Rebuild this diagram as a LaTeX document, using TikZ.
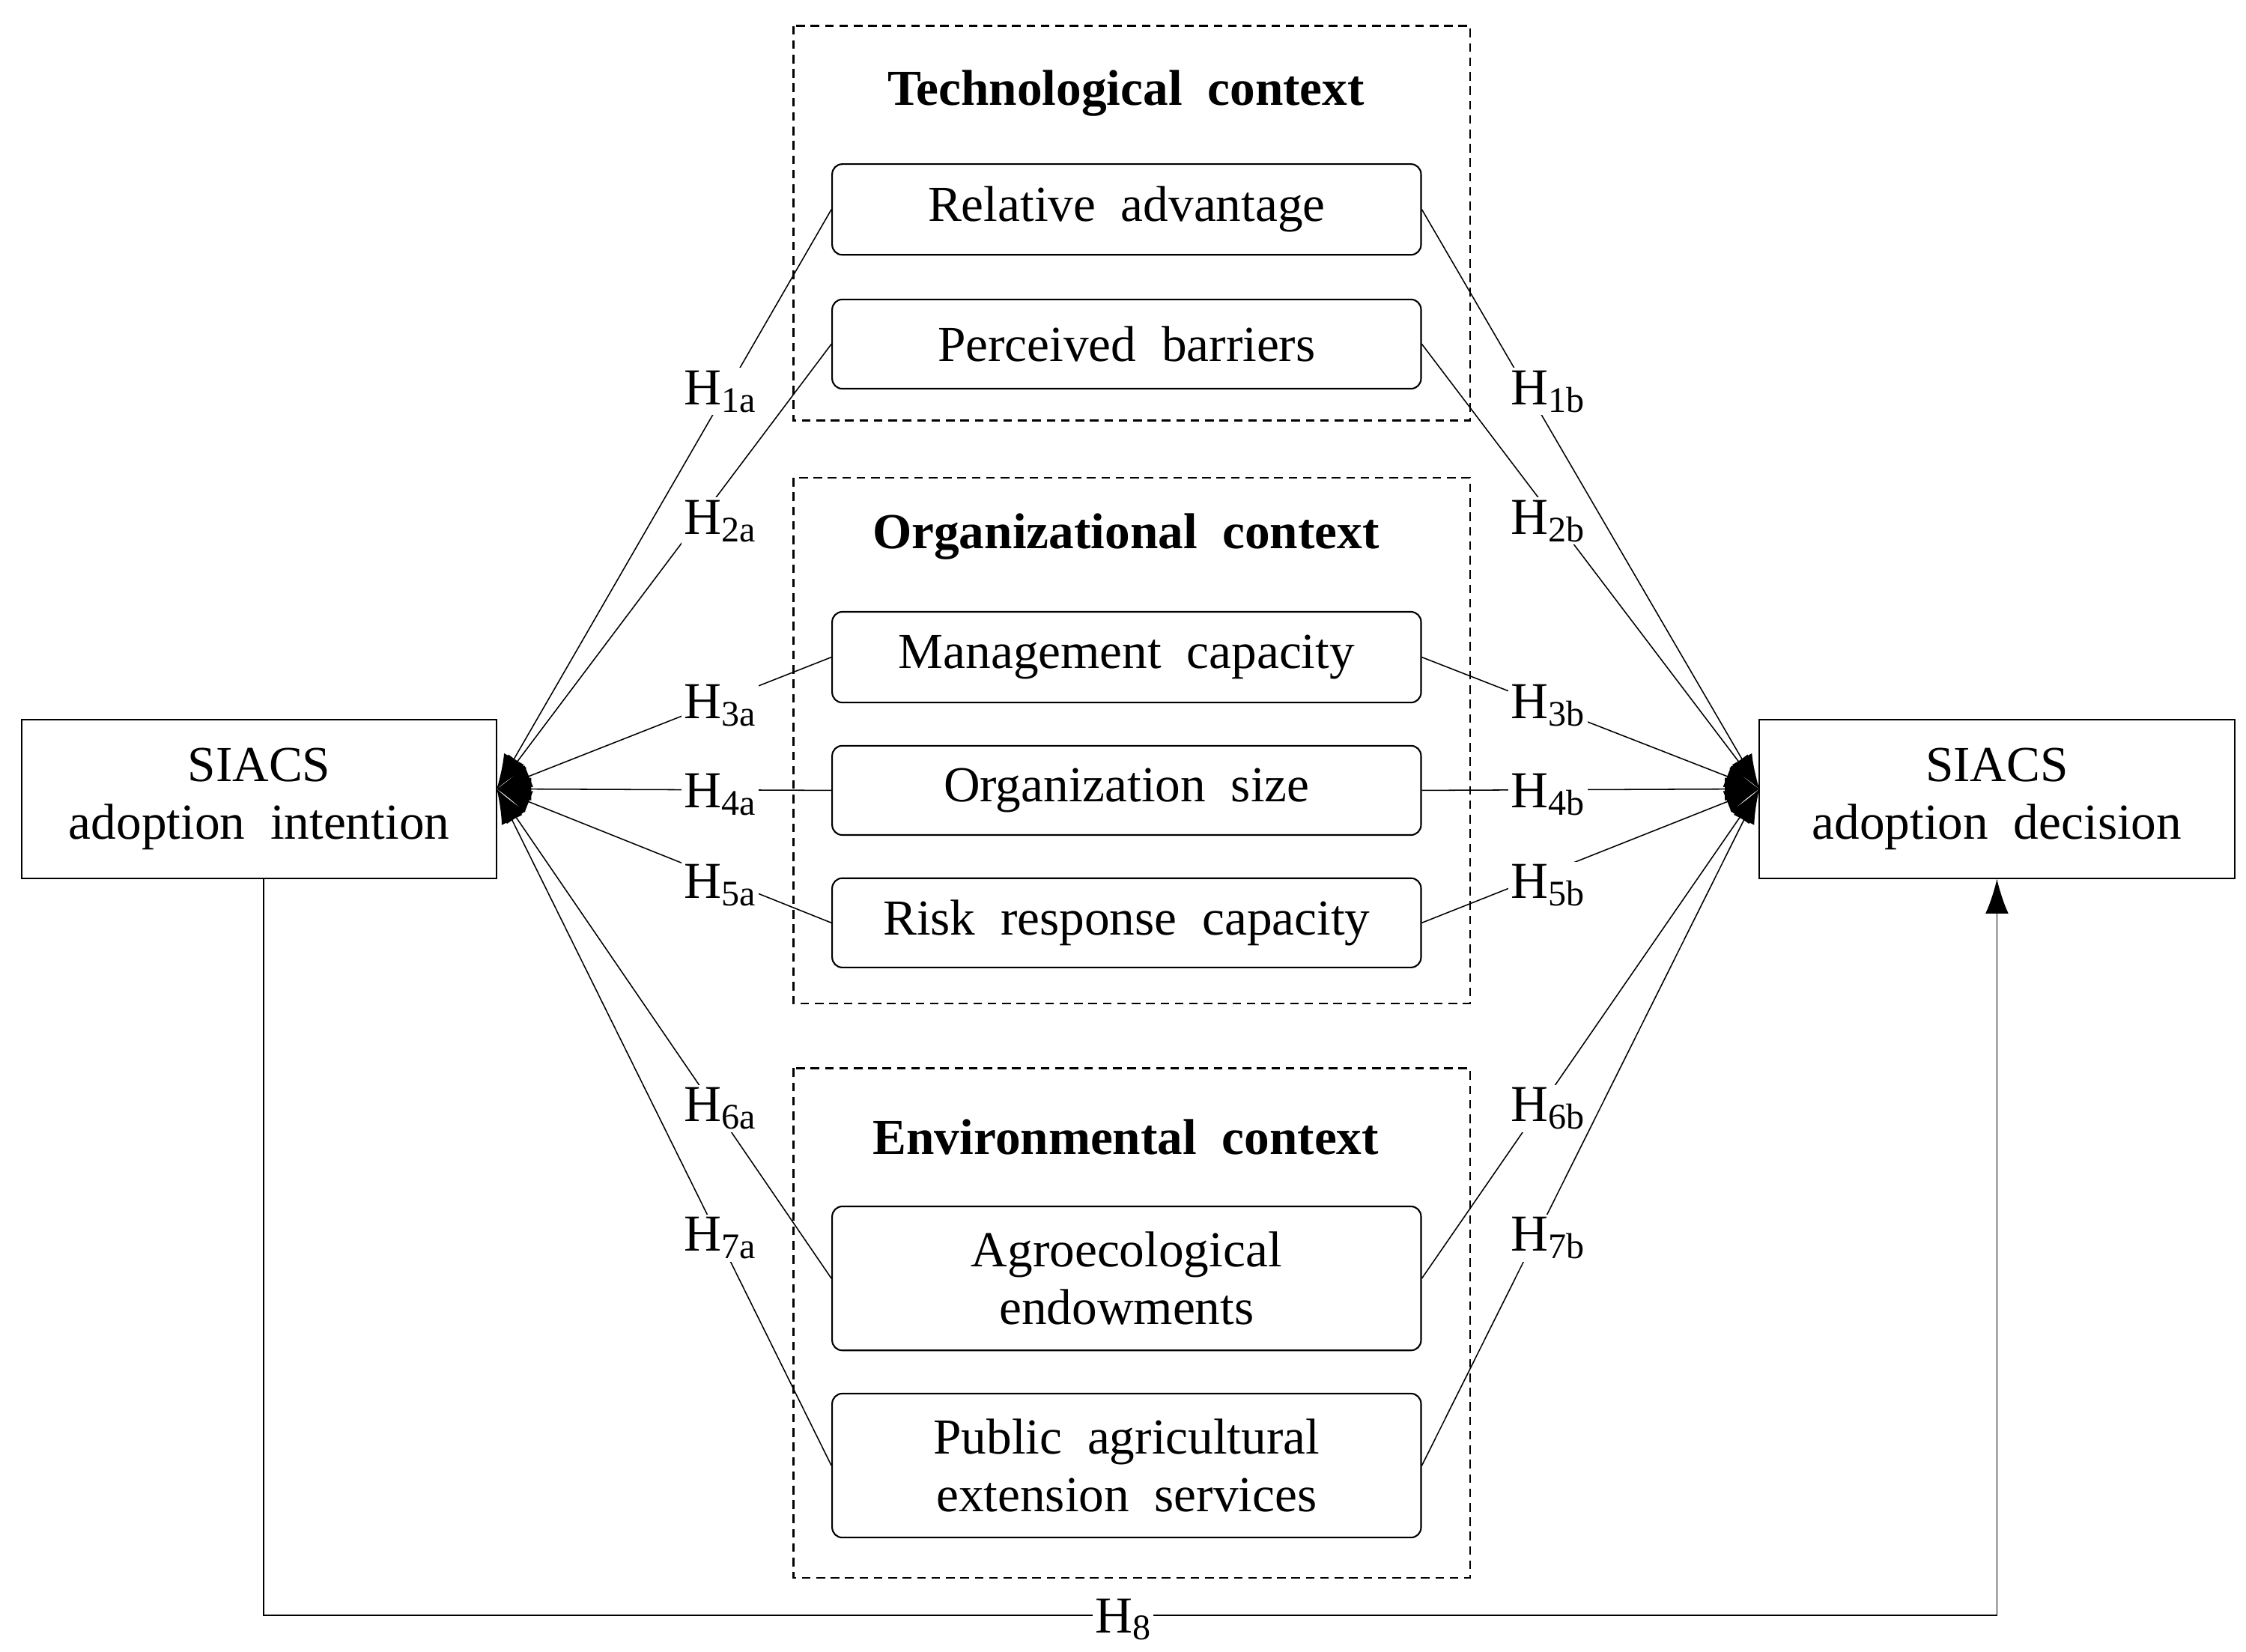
\documentclass[tikz,border=0pt]{standalone}
\usepackage{fontspec}
\setmainfont{Liberation Serif}
\usetikzlibrary{arrows.meta}
\newcommand{\Hl}[2]{H{\fontsize{25}{25}\selectfont\raisebox{-5pt}{#2}}}
\begin{document}
\begin{tikzpicture}[x=1pt,y=-1pt,
  txt/.style={font=\fontsize{35}{40}\selectfont, align=center},
  inner/.style={draw, rounded corners=7, line width=1.1pt, minimum width=409, inner sep=0pt, txt},
  outer/.style={draw, line width=1.1pt, minimum width=330, minimum height=110, inner sep=0pt, txt},
  ctx/.style={draw, dashed, line width=1.3pt, dash pattern=on 6pt off 4pt},
  ttl/.style={font=\fontsize{35}{40}\selectfont\bfseries},
  ln/.style={line width=0.8pt},
  arr/.style={ln,-{Latex[length=24,width=16]}},
  hl/.style={fill=white, inner sep=2pt, font=\fontsize{36}{40}\selectfont}]
\useasboundingbox (0,0) rectangle (1560,1147);
\draw[ctx] (551,18) rectangle (1021,292);
\draw[ctx] (551,332) rectangle (1021,697);
\draw[ctx] (551,742) rectangle (1021,1096);
\node[ttl] at (782,65) {Technological\ \ context};
\node[ttl] at (782,373) {Organizational\ \ context};
\node[ttl] at (782,790) {Environmental\ \ context};
\node[outer] (L) at (180,555) {SIACS\\adoption\ \ intention};
\node[outer] (R) at (1387,555) {SIACS\\adoption\ \ decision};
\coordinate (LT) at (345,548);
\coordinate (RT) at (1222,548);
\node[inner, minimum height=63] (b1) at (782.5,145.5) {Relative\ \ advantage};
\node[inner, minimum height=62] (b2) at (782.5,239) {Perceived\ \ barriers};
\node[inner, minimum height=63] (b3) at (782.5,456.5) {Management\ \ capacity};
\node[inner, minimum height=62] (b4) at (782.5,549) {Organization\ \ size};
\node[inner, minimum height=62] (b5) at (782.5,641) {Risk\ \ response\ \ capacity};
\node[inner, minimum height=100] (b6) at (782.5,888) {Agroecological\\endowments};
\node[inner, minimum height=100] (b7) at (782.5,1018) {Public\ \ agricultural\\extension\ \ services};
\foreach \i in {1,...,7}{
  \draw[arr] (b\i.west) -- (LT);
  \draw[arr] (b\i.east) -- (RT);
}
\node[hl] (h1a) at (500,272) {\Hl{}{1a}};
\node[hl] (h2a) at (500,362) {\Hl{}{2a}};
\node[hl] (h3a) at (500,490) {\Hl{}{3a}};
\node[hl] (h4a) at (500,552) {\Hl{}{4a}};
\node[hl] (h5a) at (500,615) {\Hl{}{5a}};
\node[hl] (h6a) at (500,770) {\Hl{}{6a}};
\node[hl] (h7a) at (500,860) {\Hl{}{7a}};
\node[hl] (h1b) at (1075,272) {\Hl{}{1b}};
\node[hl] (h2b) at (1075,362) {\Hl{}{2b}};
\node[hl] (h3b) at (1075,490) {\Hl{}{3b}};
\node[hl] (h4b) at (1075,552) {\Hl{}{4b}};
\node[hl] (h5b) at (1075,615) {\Hl{}{5b}};
\node[hl] (h6b) at (1075,770) {\Hl{}{6b}};
\node[hl] (h7b) at (1075,860) {\Hl{}{7b}};
\coordinate (c1) at (183,1122);
\coordinate (c2) at (1387,1122);
\draw[arr] (L.south -| c1) -- (c1) -- (c2) -- (R.south -| c2);
\node[hl] (h8) at (780,1125) {H{\fontsize{25}{25}\selectfont\raisebox{-5pt}{8}}};
\end{tikzpicture}
\end{document}
